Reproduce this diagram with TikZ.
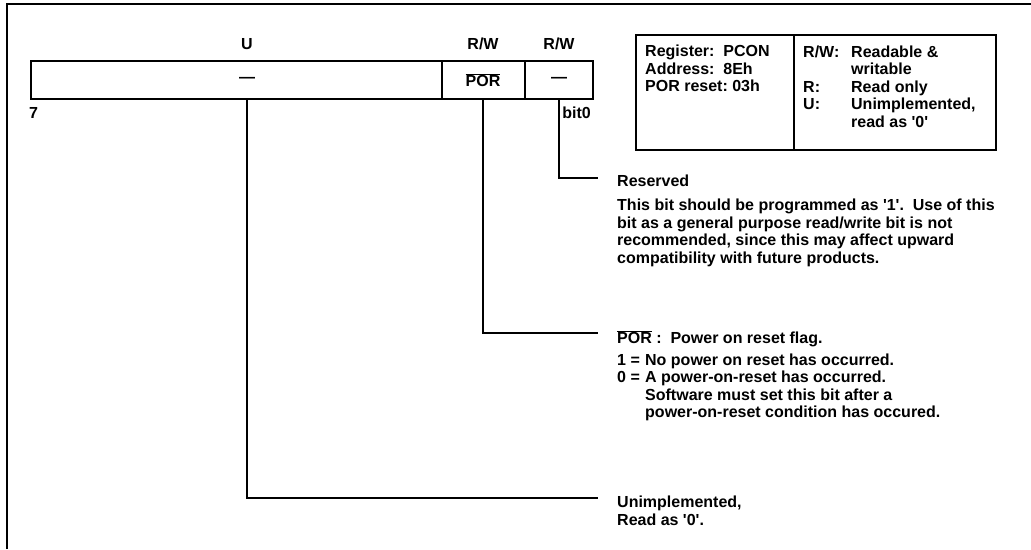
\documentclass[tikz,border=0pt]{standalone}
\usepackage{fontspec}
\setmainfont{Liberation Sans}
\newcommand{\sq}{\textquotesingle}
\begin{document}
\begin{tikzpicture}[x=1pt,y=-1pt,
  txt/.style={font=\fontsize{16}{17.5}\selectfont\bfseries, inner sep=0pt},
  lbl/.style={txt, anchor=center},
  blk/.style={txt, anchor=north west, align=left},
  cellbox/.style={draw, line width=1.6pt, inner sep=0pt},
  conn/.style={line width=1.4pt},
  frame/.style={line width=2pt}]
\useasboundingbox (0,0) rectangle (1031,549);
% outer frame (only top and left edges visible)
\draw[frame] (7,549) -- (7,4) -- (1031,4);
% register cells
\node[cellbox, minimum width=411pt, minimum height=38pt] (c7) at (236.5,80) {};
\node[cellbox, minimum width=83pt, minimum height=38pt] (c1) at (483.5,80) {};
\node[cellbox, minimum width=68pt, minimum height=38pt] (c0) at (559,80) {};
% cell contents
\node[lbl] (d7) at (247,80) {---};
\node[lbl] (d1) at (483,80) {$\overline{\hbox{POR}}$};
\node[lbl] (d0) at (559,80) {---};
% access labels
\node[lbl] (a7) at (247,44) {U};
\node[lbl] (a1) at (483,44) {R/W};
\node[lbl] (a0) at (559,44) {R/W};
% bit numbers
\node[txt, anchor=west] (b7) at (29,113) {7};
\node[txt, anchor=east] (b0) at (591,113) {bit0};
% legend box
\node[draw, line width=1.6pt, minimum width=360pt, minimum height=115pt, inner sep=0pt] (leg) at (816,92.5) {};
\draw[line width=1.6pt] (794,35) -- (794,150);
\node[blk] (legl) at (645,45) {Register:\ \ PCON\\Address:\ \ 8Eh\\POR reset:\ 03h};
\node[blk] (legr) at (803,45) {\begin{tabular}{@{}p{48pt}@{}l@{}}R/W: & Readable \&\\ & writable\\R: & Read only\\U: & Unimplemented,\\ & read as \sq0\sq\end{tabular}};
% descriptions
\node[blk] (res) at (617,175) {Reserved};
\node[blk] (resp) at (617,199) {This bit should be programmed as \sq1\sq.\ \ Use of this\\bit as a general purpose read/write bit is not\\recommended, since this may affect upward\\compatibility with future products.};
\node[blk] (por) at (617,330) {$\overline{\hbox{POR}}$\ :\ \ Power on reset flag.};
\node[blk] (porl) at (617,353) {\begin{tabular}{@{}p{28pt}@{}l@{}}1 = & No power on reset has occurred.\\0 = & A power-on-reset has occurred.\\ & Software must set this bit after a\\ & power-on-reset condition has occured.\end{tabular}};
\node[blk] (unimp) at (617,496) {Unimplemented,\\Read as \sq0\sq.};
% connector ends
\coordinate (e0) at (598,178);
\coordinate (e1) at (598,333);
\coordinate (e7) at (598,498);
% connectors
\draw[conn] (d0 |- c0.south) |- (e0);
\draw[conn] (d1 |- c1.south) |- (e1);
\draw[conn] (d7 |- c7.south) |- (e7);
\end{tikzpicture}
\end{document}
